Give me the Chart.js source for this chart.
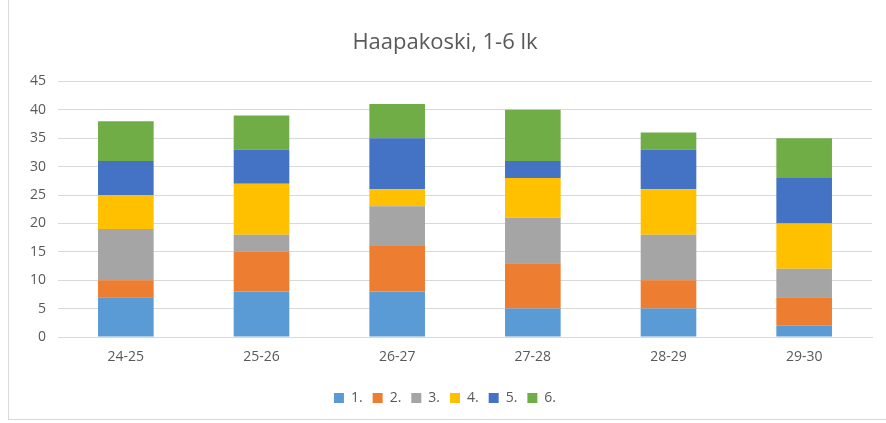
<!DOCTYPE html>
<html><head><meta charset="utf-8">
<script src="https://cdn.jsdelivr.net/npm/chart.js@4/dist/chart.umd.min.js"></script>
<style>
html,body{margin:0;padding:0;background:#fff;width:886px;height:423px;overflow:hidden}
#frame{position:absolute;left:8px;top:-2px;width:890px;height:422px;border:1px solid #d9d9d9;box-sizing:border-box}
#wrap{position:absolute;left:0;top:0;width:886px;height:423px}
</style></head><body>
<div id="frame"></div>
<div id="wrap"><canvas id="c" width="886" height="423"></canvas></div>
<script>
const categories = ["24-25","25-26","26-27","27-28","28-29","29-30"];
const seriesNames = ["1.","2.","3.","4.","5.","6."];
const s1 = [7,8,8,5,5,2];
const s2 = [3,7,8,8,5,5];
const s3 = [9,3,7,8,8,5];
const s4 = [6,9,3,7,8,8];
const s5 = [6,6,9,3,7,8];
const s6 = [7,6,6,9,3,7];
const colors = ["#5B9BD5","#ED7D31","#A5A5A5","#FFC000","#4472C4","#70AD47"];
const allSeries = [s1,s2,s3,s4,s5,s6];
const datasets = allSeries.map((d,i)=>({label:seriesNames[i],data:d,backgroundColor:colors[i],borderWidth:0,barPercentage:0.41,categoryPercentage:1}));
Chart.defaults.font.family = "'Open Sans','Liberation Sans',sans-serif";
Chart.defaults.color = "#595959";
new Chart(document.getElementById('c'),{
  type:'bar',
  data:{labels:categories,datasets:datasets},
  options:{
    responsive:false,animation:false,
    layout:{padding:{left:18,right:14,top:8,bottom:8}},
    plugins:{
      title:{display:true,text:"Haapakoski, 1-6 lk",font:{size:22,weight:'normal'},color:"#595959",padding:{top:22,bottom:25}},
      legend:{position:'bottom',
        title:{display:true,text:'',font:{size:1},padding:{top:0,bottom:10}},
        labels:{boxWidth:10,boxHeight:10,font:{size:14},padding:10,color:"#595959"}},
      tooltip:{enabled:false}
    },
    scales:{
      x:{stacked:true,grid:{display:false},border:{color:"#d9d9d9"},ticks:{font:{size:14},color:"#595959",padding:4}},
      y:{stacked:true,min:0,max:45,ticks:{stepSize:5,font:{size:14},color:"#595959",padding:12},grid:{color:"#d9d9d9",drawTicks:false},border:{display:false}}
    }
  }
});
</script>
</body></html>
